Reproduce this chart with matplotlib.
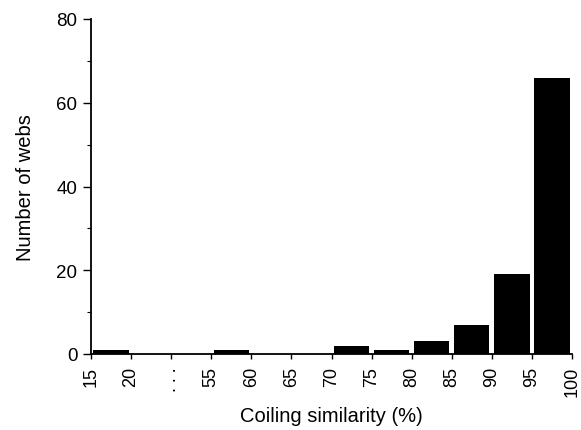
import matplotlib
matplotlib.use("Agg")
import matplotlib.pyplot as plt
import numpy as np

tick_labels = ["15", "20", ". . .", "55", "60", "65", "70", "75", "80", "85", "90", "95", "100"]
bin_counts = [1, 0, 0, 1, 0, 0, 2, 1, 3, 7, 19, 66]

plt.rcParams['font.family'] = ['Liberation Sans', 'DejaVu Sans']

fig = plt.figure(figsize=(5.81, 4.31), dpi=100)
ax = fig.add_axes([91/581, 1-355/431, (572-91)/581, (355-20)/431])

pos = np.arange(len(bin_counts)) + 0.5
ax.bar(pos, bin_counts, width=0.88, color='black', edgecolor='black', linewidth=0)

ax.set_xlim(0, len(bin_counts))
ax.set_ylim(0, 80)
ax.set_xticks(np.arange(len(tick_labels)))
ax.set_xticklabels(tick_labels, rotation=90, fontsize=13)
ax.set_yticks([0, 20, 40, 60, 80])
ax.set_yticks([10, 30, 50, 70], minor=True)
ax.tick_params(axis='y', which='major', length=5.8, width=1, labelsize=13.5, pad=4)
ax.tick_params(axis='y', which='minor', length=2.9, width=0.8)
ax.tick_params(axis='x', which='major', length=3.6, width=1, pad=5)

for s in ['top', 'right']:
    ax.spines[s].set_visible(False)
ax.spines['left'].set_linewidth(1.3)
ax.spines['bottom'].set_linewidth(1.3)

ax.set_xlabel("Coiling similarity (%)", fontsize=14.5)
ax.set_ylabel("Number of webs", fontsize=14.5)
ax.xaxis.set_label_coords(0.5, (355 - 407) / 335)
ax.yaxis.set_label_coords((35 - 91) / 481, 0.5)

fig.savefig("out.png", dpi=100)
